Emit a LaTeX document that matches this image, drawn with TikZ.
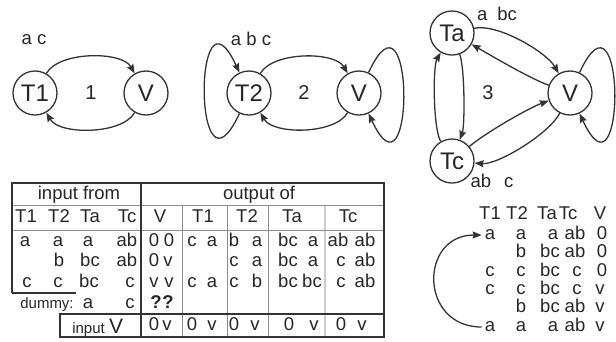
\documentclass[tikz,border=0pt]{standalone}
\usepackage{fontspec}
\setmainfont{Liberation Sans}
\usetikzlibrary{arrows.meta}
\begin{document}
\begin{tikzpicture}[x=1pt,y=1pt,
    state/.style={draw=black!80,line width=1.3pt,circle,minimum size=44pt,inner sep=0pt,text=black!85,font=\fontsize{24}{24}\selectfont},
    edge/.style={draw=black!80,line width=1.3pt,-{Stealth[length=9pt,width=7pt,inset=1pt]}},
    txt/.style={inner sep=1pt,text height=12.5pt,text depth=3.5pt,text=black!85,font=\fontsize{18.5}{18.5}\selectfont},
    small/.style={txt,font=\fontsize{15}{15}\selectfont},
    num/.style={inner sep=1pt,text=black!85,font=\fontsize{20}{20}\selectfont},
    frame/.style={draw=black!80,line width=1.5pt},
    rule/.style={draw=black!45,line width=0.7pt}]
  \useasboundingbox (0,0) rectangle (616,-341);

  % the three graphs
  \def \Nodes {
    T1/35/93/T1,
    V1/146/93/V,
    T2/249/93/T2,
    V2/359/93/V,
    Ta/452/33/Ta,
    V3/570/93/V,
    Tc/452/161/Tc}
  \def \Edges {
    T1/V1/60/120/0.75,
    V1/T1/-120/-60/0.75,
    T2/V2/60/120/0.75,
    V2/T2/-120/-60/0.75,
    Ta/V3/12/120/0.65,
    V3/Ta/160/-30/0.6,
    Ta/Tc/-70/70/0.45,
    Tc/Ta/120/-120/0.45,
    Tc/V3/40/200/0.6,
    V3/Tc/243/-5/0.6}

  \foreach \id / \x / \y / \w in \Nodes {
    \node[state] (\id) at (\x, -\y) {\w};
  }
  \foreach \a / \b / \o / \i / \l in \Edges {
    \draw[edge] (\a) to[out=\o,in=\i,looseness=\l] (\b);
  }
  \draw[edge] (T2) to[out=245,in=115,distance=110pt] (T2);
  \draw[edge] (V2) to[out=65,in=-65,distance=110pt] (V2);
  \draw[edge] (V3) to[out=65,in=-65,distance=110pt] (V3);

  \node[num] (n1) at (91,-93) {1};
  \node[num] (n2) at (304,-93) {2};
  \node[num] (n3) at (488,-93) {3};
  \node[txt] (lab1) at (34,-40) {a c};
  \node[txt] (lab2) at (251,-41) {a b c};
  \node[txt] (laba) at (497,-16) {a\hspace{10pt}bc};
  \node[txt] (labc) at (492,-183) {ab\hspace{13pt}c};

  % table
  \foreach \x in {182,227,268}
    \draw[rule] (\x,-205) -- (\x,-337);
  \draw[rule,draw=black!20,line width=1.5pt] (325,-205) -- (325,-337);
  \draw[rule] (12,-205) -- (384,-205);
  \draw[rule] (12,-230) -- (384,-230);
  \draw[frame,line join=miter] (12,-293) -- (12,-183) -- (384,-183) -- (384,-337) -- (60,-337) -- (60,-314) -- (384,-314);
  \draw[frame] (12,-293) -- (76,-293);
  \draw[frame] (141,-183) -- (141,-337);

  \node[txt] (infrom) at (79,-195) {input from};
  \node[txt] (outof) at (259,-195) {output of};
  \def \Rows {
    218/{26/T1,59/T2,90/Ta,127/Tc,160/V,203/T1,247/T2,292/Ta,348/Tc},
    242/{25/a,58/a,88/a,127/ab,154/0,169/0,192/c,212/a,234/b,257/a,288/bc,313/a,338/ab,365/ab},
    262/{59/b,90/bc,127/ab,154/0,168/v,234/c,257/a,288/bc,313/a,341/c,365/ab},
    283/{27/c,58/c,89/bc,130/c,154/v,169/v,192/c,212/a,234/c,257/b,288/bc,312/bc,341/c,365/ab},
    304/{88/a,130/c,156/\textbf{?},168/\textbf{?}},
    326/{154/0,167/v,192/0,212/v,234/0,255/v,289/0,314/v,341/0,362/v}}
  \foreach \y / \row in \Rows {
    \foreach \x / \t in \row {
      \node[txt] (t-\y-\x) at (\x,-\y) {\t};
    }
  }
  \node[small] (dummy) at (47,-304) {dummy:};
  \node[small,anchor=base east] (inp) at (106,-333) {input};
  \node[txt,font=\fontsize{21}{21}\selectfont,anchor=base west] (inpV) at (108,-333) {V};

  % the sequence of states
  \def \Steps {
    215/{490/T1,517/T2,547/Ta,568/Tc,600/V},
    235/{490/a,521/a,553/a,575/ab,602/0},
    253/{521/b,550/bc,575/ab,602/0},
    272/{490/c,521/c,550/bc,577/c,602/0},
    290/{490/c,521/c,550/bc,577/c,600/v},
    308/{521/b,550/bc,575/ab,600/v},
    327/{490/a,521/a,553/a,575/ab,600/v}}
  \foreach \y / \row in \Steps {
    \foreach \x / \t in \row {
      \node[txt] (s-\y-\x) at (\x,-\y) {\t};
    }
  }
  \draw[edge,shorten <=2pt,shorten >=2pt] (s-327-490.west) to[out=180,in=180,looseness=1.8] (s-235-490.west);
\end{tikzpicture}
\end{document}
